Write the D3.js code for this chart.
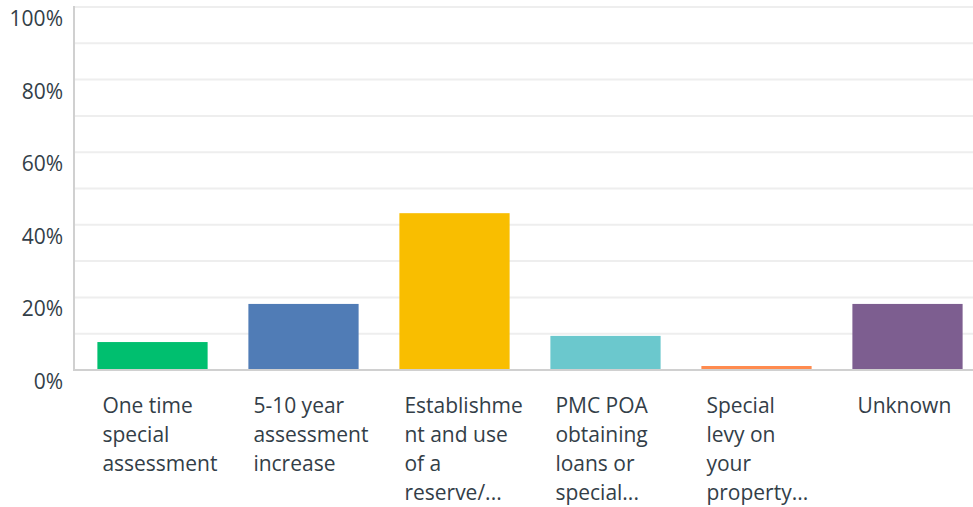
<!DOCTYPE html>
<html><head><meta charset="utf-8">
<script src="https://cdn.jsdelivr.net/npm/d3@7"></script>
<style>
html,body{margin:0;padding:0;background:#fff;}
svg{display:block;}
text{font-family:"Open Sans",sans-serif;fill:#333e48;}
</style></head>
<body>
<svg id="chart" width="973" height="507"></svg>
<script>
const categories = [
  "One time|special|assessment",
  "5-10 year|assessment|increase",
  "Establishme|nt and use|of a|reserve/...",
  "PMC POA|obtaining|loans or|special...",
  "Special|levy on|your|property...",
  "Unknown"
];
const values = [7.7, 18.2, 43.2, 9.4, 1.1, 18.2];
const colors = ["#00bf6f", "#507cb6", "#f9be00", "#6bc8cd", "#ff8b4f", "#7d5e90"];
const yTicks = [0, 20, 40, 60, 80, 100];
const gridTicks = [10, 20, 30, 40, 50, 60, 70, 80, 90, 100];

const svg = d3.select("#chart");
const mLeft = 74, mRight = 973, mTop = 7, mBottom = 370;

const y = d3.scaleLinear().domain([0, 100]).range([mBottom, mTop]);
const x = d3.scaleBand().domain(categories).range([77, 983]).paddingInner(0.27).paddingOuter(0.135);

// gridlines
svg.append("g").selectAll("line").data(gridTicks).join("line")
  .attr("x1", mLeft).attr("x2", mRight)
  .attr("y1", d => y(d)).attr("y2", d => y(d))
  .attr("stroke", "#eeeeee").attr("stroke-width", 2);

// bars
svg.append("g").selectAll("rect").data(values).join("rect")
  .attr("x", (d, i) => x(categories[i]))
  .attr("width", x.bandwidth())
  .attr("y", d => y(d))
  .attr("height", d => y(0) - y(d))
  .attr("fill", (d, i) => colors[i]);

// axes lines
svg.append("line").attr("x1", mLeft).attr("x2", mLeft).attr("y1", mTop - 1).attr("y2", mBottom + 1)
  .attr("stroke", "#d0d0d0").attr("stroke-width", 2);
svg.append("line").attr("x1", mLeft - 1).attr("x2", mRight).attr("y1", mBottom).attr("y2", mBottom)
  .attr("stroke", "#d0d0d0").attr("stroke-width", 2);

// y labels
svg.append("g").selectAll("text").data(yTicks).join("text")
  .attr("x", 63).attr("y", d => y(d) + 11)
  .attr("text-anchor", "end").attr("dominant-baseline", "central")
  .style("font-size", "21px")
  .text(d => d + "%");

// x labels
const xl = svg.append("g").selectAll("text").data(categories).join("text")
  .attr("x", d => x(d) + 5)
  .attr("y", 413)
  .style("font-size", "21px");
xl.selectAll("tspan").data(d => d.split("|")).join("tspan")
  .attr("x", function() { return d3.select(this.parentNode).attr("x"); })
  .attr("dy", (d, i) => i === 0 ? 0 : 29)
  .text(d => d);
</script>
</body></html>
